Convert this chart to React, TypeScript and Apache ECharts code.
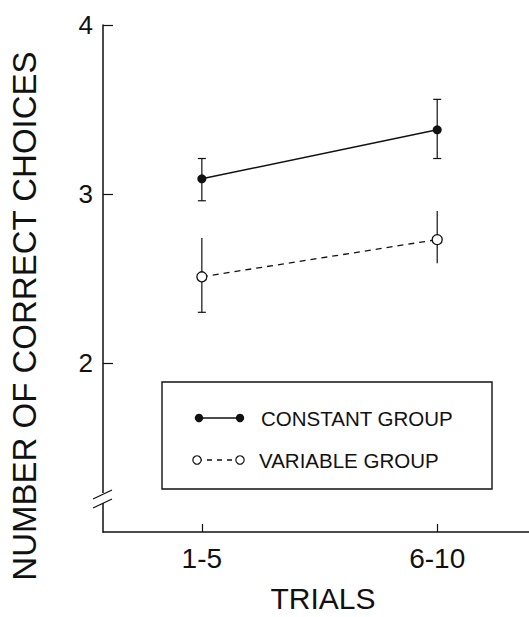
import React, { useEffect, useRef } from "react";
import * as echarts from "echarts";

const categories = ["1-5", "6-10"];
const xPositions = [1, 2];
const constantMean = [3.09, 3.38];
const constantLow = [2.96, 3.21];
const constantHigh = [3.21, 3.56];
const variableMean = [2.51, 2.73];
const variableLow = [2.3, 2.59];
const variableHigh = [2.74, 2.9];
const yTicks = [2, 3, 4];
const seriesNames = ["CONSTANT GROUP", "VARIABLE GROUP"];
const yName = "NUMBER OF CORRECT CHOICES";
const xName = "TRIALS";

const FONT = "'Liberation Sans', Arial, Helvetica, sans-serif";

function errorBars(low: number[], high: number[], capTop: boolean[], capBottom: boolean[]) {
  return xPositions.map((x, i) => [x, low[i], high[i], capTop[i] ? 1 : 0, capBottom[i] ? 1 : 0]);
}

export default function App() {
  const ref = useRef<HTMLDivElement>(null);
  useEffect(() => {
    if (!ref.current) return;
    const chart = echarts.init(ref.current, undefined, { renderer: "svg" });
    const renderErr = (params: any, api: any) => {
      const x = api.value(0);
      const lo = api.coord([x, api.value(1)]);
      const hi = api.coord([x, api.value(2)]);
      const cap = 4;
      const children: any[] = [
        { type: "line", shape: { x1: lo[0], y1: lo[1], x2: hi[0], y2: hi[1] }, style: { stroke: "#111", lineWidth: 1.2 } },
      ];
      if (api.value(3)) children.push({ type: "line", shape: { x1: hi[0] - cap, y1: hi[1], x2: hi[0] + cap, y2: hi[1] }, style: { stroke: "#111", lineWidth: 1.2 } });
      if (api.value(4)) children.push({ type: "line", shape: { x1: lo[0] - cap, y1: lo[1], x2: lo[0] + cap, y2: lo[1] }, style: { stroke: "#111", lineWidth: 1.2 } });
      return { type: "group", children };
    };
    chart.setOption({
      animation: false,
      backgroundColor: "#fff",
      grid: { left: 103, right: 0, top: 25, bottom: 85 },
      xAxis: {
        type: "value",
        min: 0.58,
        max: 2.39,
        axisLine: { show: true, lineStyle: { color: "#111", width: 1.5 } },
        axisTick: { show: true, inside: true, length: 8, customValues: xPositions, lineStyle: { color: "#111", width: 1.2 } },
        axisLabel: {
          customValues: xPositions,
          formatter: (v: number) => categories[xPositions.indexOf(Math.round(v))] ?? "",
          fontFamily: FONT,
          fontSize: 28,
          color: "#111",
          margin: 12,
        },
        splitLine: { show: false },
      },
      yAxis: {
        type: "value",
        min: 1,
        max: 4,
        interval: 1,
        axisLine: { show: true, lineStyle: { color: "#111", width: 1.5 } },
        axisTick: { show: true, inside: true, length: 10, customValues: yTicks, lineStyle: { color: "#111", width: 1.2 } },
        axisLabel: {
          customValues: yTicks,
          fontFamily: FONT,
          fontSize: 26,
          color: "#111",
          margin: 10,
        },
        splitLine: { show: false },
      },
      graphic: [
        { type: "rect", shape: { x: 97, y: 493, width: 12, height: 10 }, style: { fill: "#fff" }, z: 100 },
        { type: "line", shape: { x1: 93, y1: 499, x2: 112, y2: 490 }, style: { stroke: "#111", lineWidth: 1.3 }, z: 101 },
        { type: "line", shape: { x1: 93, y1: 508, x2: 112, y2: 499 }, style: { stroke: "#111", lineWidth: 1.3 }, z: 101 },
        {
          type: "text",
          x: 24,
          y: 316,
          rotation: Math.PI / 2,
          style: { text: yName, fontFamily: FONT, fontSize: 33, fill: "#111", align: "center", verticalAlign: "middle" },
        },
        {
          type: "text",
          x: 323,
          y: 598,
          style: { text: xName, fontFamily: FONT, fontSize: 30, fill: "#111", align: "center", verticalAlign: "middle" },
        },
        { type: "rect", shape: { x: 162, y: 382, width: 330, height: 107 }, style: { fill: "#fff", stroke: "#111", lineWidth: 1.4 }, z: 50 },
        { type: "line", shape: { x1: 199, y1: 418, x2: 240, y2: 418 }, style: { stroke: "#111", lineWidth: 1.4 }, z: 51 },
        { type: "circle", shape: { cx: 199, cy: 418, r: 4.2 }, style: { fill: "#111" }, z: 52 },
        { type: "circle", shape: { cx: 240, cy: 418, r: 4.2 }, style: { fill: "#111" }, z: 52 },
        { type: "text", x: 261, y: 418, style: { text: seriesNames[0], fontFamily: FONT, fontSize: 20.5, fill: "#111", verticalAlign: "middle" }, z: 52 },
        { type: "line", shape: { x1: 197, y1: 460, x2: 240, y2: 460 }, style: { stroke: "#111", lineWidth: 1.3, lineDash: [5, 5] }, z: 51 },
        { type: "circle", shape: { cx: 197, cy: 460, r: 4.2 }, style: { fill: "#fff", stroke: "#111", lineWidth: 1.2 }, z: 52 },
        { type: "circle", shape: { cx: 240, cy: 460, r: 4.2 }, style: { fill: "#fff", stroke: "#111", lineWidth: 1.2 }, z: 52 },
        { type: "text", x: 259, y: 460, style: { text: seriesNames[1], fontFamily: FONT, fontSize: 20.5, fill: "#111", verticalAlign: "middle" }, z: 52 },
      ],
      series: [
        {
          type: "custom",
          name: seriesNames[0] + " error",
          renderItem: renderErr,
          data: errorBars(constantLow, constantHigh, [true, true], [true, true]),
          z: 1,
        },
        {
          type: "custom",
          name: seriesNames[1] + " error",
          renderItem: renderErr,
          data: errorBars(variableLow, variableHigh, [false, false], [true, false]),
          z: 1,
        },
        {
          type: "line",
          name: seriesNames[0],
          data: xPositions.map((x, i) => [x, constantMean[i]]),
          symbol: "circle",
          symbolSize: 9,
          itemStyle: { color: "#111" },
          lineStyle: { color: "#111", width: 1.4 },
          z: 3,
        },
        {
          type: "line",
          name: seriesNames[1],
          data: xPositions.map((x, i) => [x, variableMean[i]]),
          symbol: "circle",
          symbolSize: 10,
          itemStyle: { color: "#fff", borderColor: "#111", borderWidth: 1.3 },
          lineStyle: { color: "#111", width: 1.3, type: [6, 5] },
          z: 3,
        },
      ],
    });
    return () => chart.dispose();
  }, []);
  return <div ref={ref} style={{ position: "fixed", left: 0, top: 0, width: 529, height: 617 }} />;
}
